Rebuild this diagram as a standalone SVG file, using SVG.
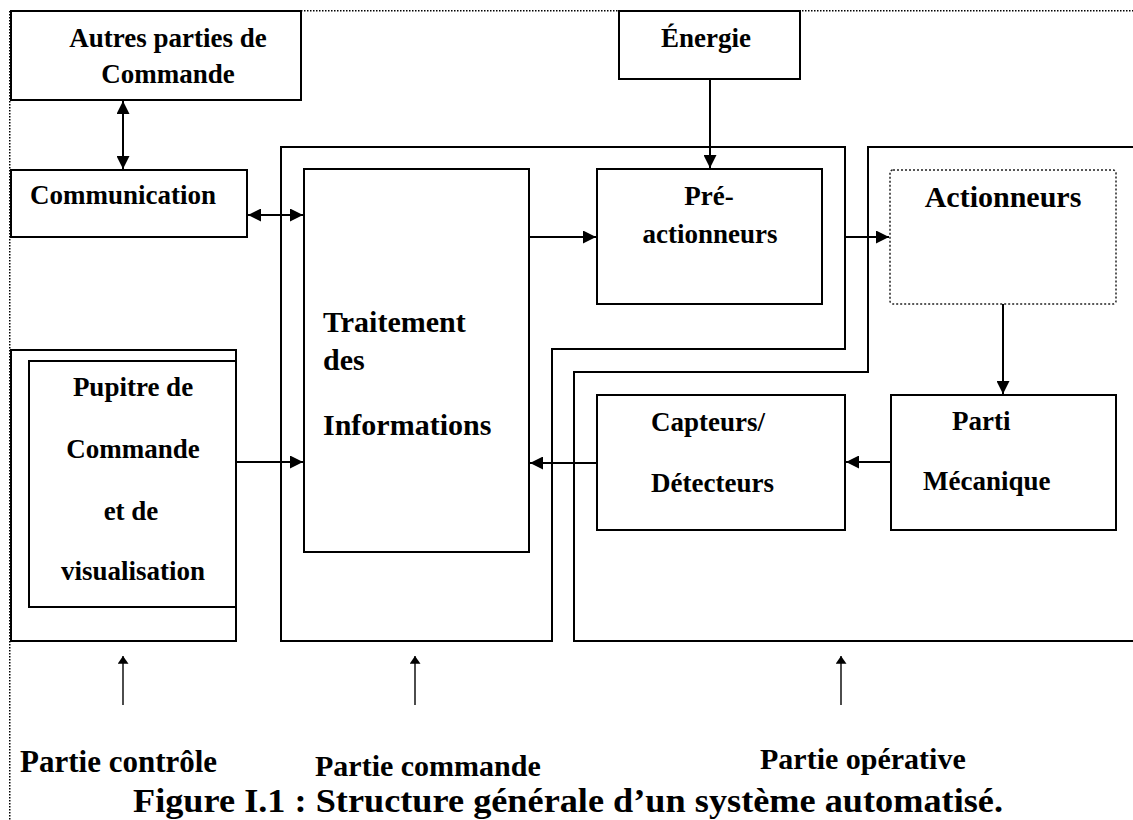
<svg xmlns="http://www.w3.org/2000/svg" width="1133" height="820" viewBox="0 0 1133 820">
<style>
.box{fill:#fff;stroke:#000;stroke-width:2}
.region{fill:none;stroke:#000;stroke-width:2}
.dot{fill:none;stroke:#000;stroke-width:1.5;stroke-dasharray:1.5 1.5}
.c{fill:none;stroke:#000;stroke-width:2}
.up{fill:none;stroke:#000;stroke-width:1.4}
text{font-family:"Liberation Serif","Times New Roman",serif;font-weight:bold;fill:#000}
.t27{font-size:27px}
.t30{font-size:30px}
.t31{font-size:31px}
.m{text-anchor:middle}
</style>
<defs>
<marker id="arr" viewBox="0 0 12 12" refX="12" refY="6" markerWidth="14" markerHeight="13" markerUnits="userSpaceOnUse" orient="auto-start-reverse">
<path d="M0,0 L12,6 L0,12 Z" fill="#000"/>
</marker>
<marker id="arrs" viewBox="0 0 10 14" refX="10" refY="7" markerWidth="16" markerHeight="11" markerUnits="userSpaceOnUse" orient="auto">
<path d="M0,0 L10,7 L0,14 Z" fill="#000"/>
</marker>
</defs>
<rect width="1133" height="820" fill="#fff"/>
<g id="frame">
<path class="dot" d="M10,10.75 H1133 M9.75,11 V820"/>
</g>
<g id="partie-commande-zone">
<path class="region" d="M281,147 H845 V349 H552 V641 H281 Z"/>
</g>
<g id="partie-operative-zone">
<path class="region" d="M1134,147 H868 V372 H574 V641 H1134"/>
</g>
<g id="pupitre-outer">
<rect class="box" x="11" y="350" width="225" height="291"/>
</g>
<g id="autres">
<rect class="box" x="11" y="11" width="290" height="89"/>
<text class="t27 m" x="168" y="47">Autres parties de</text>
<text class="t27 m" x="168" y="83">Commande</text>
</g>
<g id="communication">
<rect class="box" x="11" y="170" width="236" height="67"/>
<text class="t27" x="30" y="204">Communication</text>
</g>
<g id="energie">
<rect class="box" x="619" y="11" width="181" height="68"/>
<text class="t27 m" x="706" y="47">Énergie</text>
</g>
<g id="traitement">
<rect class="box" x="304" y="169" width="225" height="383"/>
<text class="t30" x="323" y="332">Traitement</text>
<text class="t30" x="323" y="370">des</text>
<text class="t30" x="323" y="435">Informations</text>
</g>
<g id="pre-actionneurs">
<rect class="box" x="597" y="169" width="225" height="135"/>
<text class="t27 m" x="709" y="205">Pré-</text>
<text class="t27 m" x="710" y="243">actionneurs</text>
</g>
<g id="actionneurs">
<rect x="890" y="170" width="226" height="134" rx="3" fill="#fff" stroke="#222" stroke-width="1.5" stroke-dasharray="2 2"/>
<text class="t30 m" x="1003" y="207">Actionneurs</text>
</g>
<g id="capteurs">
<rect class="box" x="597" y="395" width="248" height="135"/>
<text class="t27" x="651" y="431">Capteurs/</text>
<text class="t27" x="651" y="492">Détecteurs</text>
</g>
<g id="parti-mecanique">
<rect class="box" x="891" y="395" width="225" height="135"/>
<text class="t27" x="952" y="430">Parti</text>
<text class="t27" x="923" y="490">Mécanique</text>
</g>
<g id="pupitre">
<rect class="box" x="29" y="361" width="207" height="246"/>
<text class="t27 m" x="133" y="396">Pupitre de</text>
<text class="t27 m" x="133" y="458">Commande</text>
<text class="t27 m" x="131" y="520">et de</text>
<text class="t27 m" x="133" y="580">visualisation</text>
</g>
<g id="connectors">
<line class="c" x1="123" y1="101" x2="123" y2="169" marker-start="url(#arr)" marker-end="url(#arr)"/>
<line class="c" x1="248" y1="215" x2="303" y2="215" marker-start="url(#arr)" marker-end="url(#arr)"/>
<line class="c" x1="710" y1="79" x2="710" y2="168" marker-end="url(#arr)"/>
<line class="c" x1="530" y1="237" x2="596" y2="237" marker-end="url(#arr)"/>
<line class="c" x1="845" y1="237" x2="889" y2="237" marker-end="url(#arr)"/>
<line class="c" x1="1003" y1="304" x2="1003" y2="394" marker-end="url(#arr)"/>
<line class="c" x1="891" y1="462" x2="846" y2="462" marker-end="url(#arr)"/>
<line class="c" x1="597" y1="463" x2="530" y2="463" marker-end="url(#arr)"/>
<line class="c" x1="237" y1="462" x2="303" y2="462" marker-end="url(#arr)"/>
<line class="up" x1="123" y1="705" x2="123" y2="656" marker-end="url(#arrs)"/>
<line class="up" x1="415" y1="705" x2="415" y2="656" marker-end="url(#arrs)"/>
<line class="up" x1="841" y1="705" x2="841" y2="656" marker-end="url(#arrs)"/>
</g>
<g id="labels">
<text class="t31" x="20" y="772">Partie contrôle</text>
<text class="t30" x="315" y="776">Partie commande</text>
<text class="t30" x="760" y="769">Partie opérative</text>
<text x="568" y="812" class="m" font-size="33" textLength="870" lengthAdjust="spacingAndGlyphs">Figure I.1 : Structure générale d’un système automatisé.</text>
</g>
</svg>
